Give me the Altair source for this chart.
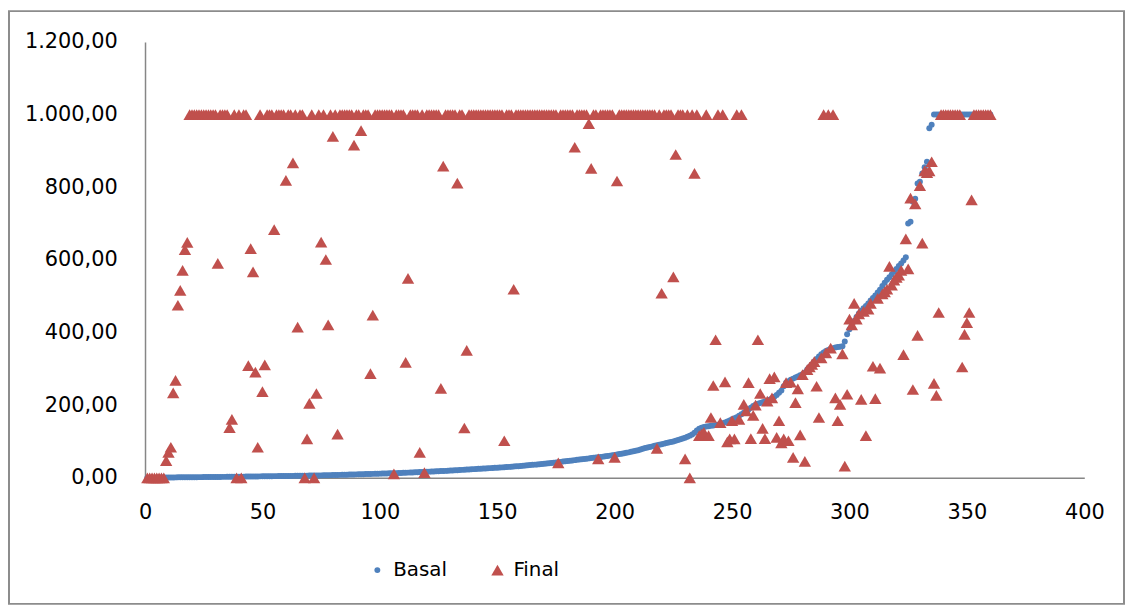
import altair as alt
import pandas as pd

# ---- axis tick labels ----
x_ticks = [0, 50, 100, 150, 200, 250, 300, 350, 400]
y_ticks = [0, 200, 400, 600, 800, 1000, 1200]
series_names = ["Basal", "Final"]
series_colors = ["#4F81BD", "#C0504D"]

# ---- Basal values (sorted, index 1..360) ----
basal = [
    0.1, 0.2, 0.3, 0.4, 0.5, 0.5, 0.6, 0.7, 0.8, 0.9,
    1.0, 1.0, 1.1, 1.2, 1.2, 1.3, 1.4, 1.4, 1.5, 1.6,
    1.6, 1.7, 1.8, 1.8, 1.9, 2.0, 2.0, 2.1, 2.2, 2.2,
    2.3, 2.4, 2.5, 2.5, 2.6, 2.7, 2.8, 2.9, 3.0, 3.0,
    3.1, 3.2, 3.3, 3.4, 3.5, 3.6, 3.7, 3.8, 3.9, 4.0,
    4.1, 4.2, 4.3, 4.4, 4.5, 4.6, 4.7, 4.8, 4.9, 5.0,
    5.1, 5.2, 5.3, 5.4, 5.5, 5.6, 5.7, 5.8, 5.9, 6.0,
    6.1, 6.2, 6.4, 6.5, 6.6, 6.8, 7.0, 7.1, 7.3, 7.5,
    7.6, 7.8, 8.0, 8.2, 8.4, 8.6, 8.8, 9.0, 9.2, 9.4,
    9.6, 9.8, 10.0, 10.2, 10.4, 10.6, 10.8, 11.0, 11.2, 11.4,
    11.6, 11.8, 12.0, 12.2, 12.4, 12.6, 12.8, 13.0, 13.3, 13.6,
    13.9, 14.2, 14.5, 14.8, 15.1, 15.4, 15.7, 16.0, 16.3, 16.6,
    16.9, 17.2, 17.5, 17.8, 18.1, 18.4, 18.7, 19.0, 19.4, 19.8,
    20.2, 20.6, 21.0, 21.4, 21.8, 22.2, 22.6, 23.0, 23.4, 23.8,
    24.2, 24.6, 25.0, 25.4, 25.8, 26.2, 26.6, 27.0, 27.4, 27.8,
    28.2, 28.6, 29.0, 29.5, 30.0, 30.5, 31.0, 31.5, 32.0, 32.6,
    33.2, 33.8, 34.4, 35.0, 35.6, 36.2, 36.8, 37.4, 38.0, 38.7,
    39.4, 40.1, 40.8, 41.5, 42.2, 43.0, 43.8, 44.6, 45.4, 46.2,
    47.0, 47.8, 48.6, 49.4, 50.2, 51.0, 51.8, 52.6, 53.4, 54.2,
    55.0, 55.8, 56.6, 57.4, 58.2, 59.0, 60.0, 61.0, 62.0, 63.0,
    64.0, 65.2, 66.4, 67.6, 68.8, 70.0, 71.5, 73.0, 74.5, 76.0,
    78.0, 80.0, 82.0, 83.5, 85.0, 86.5, 88.0, 89.5, 91.0, 92.5,
    94.0, 95.5, 97.0, 98.5, 100.0, 102.0, 104.0, 106.0, 108.0, 110.0,
    113, 116, 119, 124, 130, 135, 138, 140, 141, 142,
    143, 144, 145, 146, 148, 150, 152, 155, 158, 161,
    164, 167, 171, 175, 179, 183, 188, 193, 198, 201,
    204, 206, 208, 210, 212, 215, 219, 223, 228, 234,
    240, 252, 262, 266, 270, 273, 276, 279, 282, 285,
    290, 298, 305, 312, 320, 327, 334, 340, 345, 349,
    352, 355, 357, 359, 360, 361, 362, 375, 395, 409,
    420, 432, 443, 452, 460, 467, 473, 480, 488, 495,
    502, 510, 518, 528, 537, 545, 552, 560, 568, 575,
    583, 590, 598, 607, 700, 705, 760, 768, 810, 815,
    838, 855, 870, 962, 972, 1000, 1000, 1000, 1000, 1000,
    1000, 1000, 1000, 1000, 1000, 1000, 1000, 1000, 1000, 1000,
    1000, 1000, 1000, 1000, 1000, 1000, 1000, 1000, 1000, 1000,
]

# ---- Final values (index 1..360) ----
final = [
    0, 0, 0, 0, 0, 0, 0, 0, 47, 70,
    84, 234, 268, 475, 516, 571, 628, 648, 1000, 1000,
    1000, 1000, 1000, 1000, 1000, 1000, 1000, 1000, 1000, 1000,
    590, 1000, 1000, 1000, 1000, 138, 161, 1000, 0, 1000,
    0, 1000, 1000, 309, 631, 567, 291, 84, 1000, 237,
    311, 1000, 1000, 1000, 683, 1000, 1000, 1000, 1000, 819,
    1000, 1000, 867, 1000, 415, 1000, 1000, 0, 107, 205,
    1000, 0, 232, 1000, 649, 1000, 601, 421, 1000, 940,
    1000, 120, 1000, 1000, 1000, 1000, 1000, 1000, 916, 1000,
    1000, 956, 1000, 1000, 1000, 287, 448, 1000, 1000, 1000,
    1000, 1000, 1000, 1000, 1000, 11, 1000, 1000, 1000, 1000,
    318, 549, 1000, 1000, 1000, 1000, 70, 1000, 14, 1000,
    1000, 1000, 1000, 1000, 1000, 246, 858, 1000, 1000, 1000,
    1000, 1000, 811, 1000, 1000, 137, 351, 1000, 1000, 1000,
    1000, 1000, 1000, 1000, 1000, 1000, 1000, 1000, 1000, 1000,
    1000, 1000, 102, 1000, 1000, 1000, 519, 1000, 1000, 1000,
    1000, 1000, 1000, 1000, 1000, 1000, 1000, 1000, 1000, 1000,
    1000, 1000, 1000, 1000, 1000, 41, 1000, 1000, 1000, 1000,
    1000, 1000, 910, 1000, 1000, 1000, 1000, 1000, 975, 852,
    1000, 1000, 52, 1000, 1000, 1000, 1000, 1000, 1000, 56,
    817, 1000, 1000, 1000, 1000, 1000, 1000, 1000, 1000, 1000,
    1000, 1000, 1000, 1000, 1000, 1000, 1000, 81, 1000, 508,
    1000, 1000, 1000, 1000, 553, 890, 1000, 1000, 1000, 52,
    1000, 0, 1000, 838, 1000, 116, 120, 125, 1000, 116,
    166, 254, 380, 1000, 152, 1000, 264, 99, 107, 157,
    107, 1000, 161, 1000, 202, 184, 262, 108, 172, 200,
    380, 232, 136, 108, 211, 273, 220, 278, 111, 157,
    96, 107, 262, 102, 263, 56, 207, 245, 118, 284,
    45, 298, 305, 312, 320, 252, 166, 330, 1000, 344,
    1000, 357, 1000, 220, 157, 202, 341, 32, 230, 437,
    421, 480, 437, 451, 216, 458, 116, 464, 480, 307,
    218, 494, 302, 506, 512, 519, 582, 530, 544, 552,
    558, 571, 339, 658, 575, 770, 243, 754, 392, 804,
    646, 845, 840, 845, 870, 260, 227, 455, 1000, 1000,
    1000, 1000, 1000, 1000, 1000, 1000, 1000, 305, 395, 427,
    455, 765, 1000, 1000, 1000, 1000, 1000, 1000, 1000, 1000,
]

n = len(basal)
idx = list(range(1, n + 1))
df = pd.DataFrame({
    "x": idx + idx,
    "value": basal + final,
    "series": ["Basal"] * n + ["Final"] * len(final),
})

FONT = "DejaVu Sans"

legend = alt.Legend(
    title=None, orient="none", legendX=224, legendY=522,
    direction="horizontal", columns=2, columnPadding=40,
    labelFont=FONT, labelFontSize=20, labelColor="#000000",
    labelOffset=6, symbolStrokeWidth=0, symbolOpacity=1,
)

points = alt.Chart(df).mark_point(filled=True, opacity=1, strokeWidth=0).encode(
    x=alt.X("x:Q",
            scale=alt.Scale(domain=[0, 400], nice=False, zero=False),
            axis=alt.Axis(values=x_ticks, title=None, grid=False, ticks=False, tickSize=0,
                          labelPadding=24, labelFont=FONT, labelFontSize=21,
                          labelColor="#000000", domainColor="#868686", domainWidth=1.5,
                          labelFlush=False)),
    y=alt.Y("value:Q",
            scale=alt.Scale(domain=[0, 1200], nice=False),
            axis=alt.Axis(values=y_ticks, title=None, grid=False, ticks=False, tickSize=0,
                          labelPadding=28, labelFont=FONT, labelFontSize=21,
                          labelColor="#000000", domainColor="#868686", domainWidth=1.5,
                          labelExpr="replace(replace(replace(format(datum.value, ',.2f'), ',', '#'), '.', ','), '#', '.')")),
    color=alt.Color("series:N", scale=alt.Scale(domain=series_names, range=series_colors), legend=legend),
    shape=alt.Shape("series:N", scale=alt.Scale(domain=series_names, range=["circle", "triangle-up"]), legend=legend),
    size=alt.Size("series:N", scale=alt.Scale(domain=series_names, range=[36, 155]), legend=legend),
)

frame = alt.Chart(pd.DataFrame({"k": [0]})).mark_rect(
    filled=False, stroke="#8C8C8C", strokeWidth=2
).encode(
    x=alt.value(-137), x2=alt.value(986), y=alt.value(-31), y2=alt.value(566)
)

chart = alt.layer(frame, points).properties(
    width=946, height=439, padding=0, background="#FFFFFF"
).configure_view(stroke=None)

chart.save("out.html", embed_options={"renderer": "svg", "actions": False})
